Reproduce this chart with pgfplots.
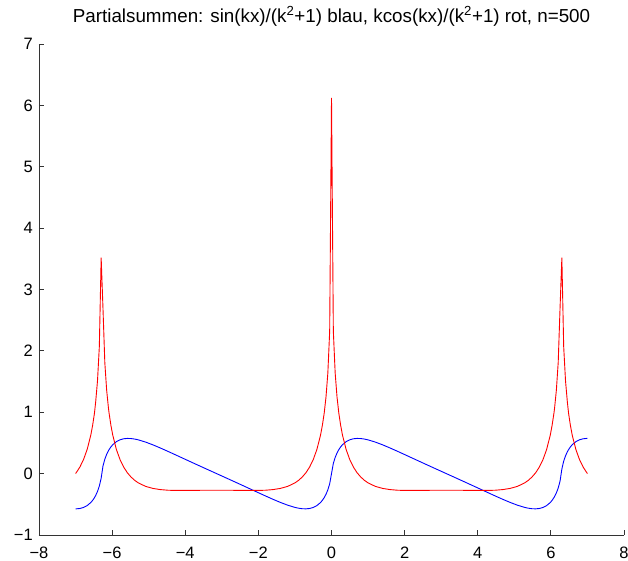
\documentclass[border=0pt]{standalone}
\usepackage{fontspec}
\setmainfont{Liberation Sans}
\usepackage{pgfplots}
\pgfplotsset{compat=1.18}

% partial sums, x = -7:0.05:7
\pgfplotstableread{
x y
-7.00 0.002
-6.9832 0.014
-6.8832 0.106
-6.7832 0.228
-6.6832 0.393
-6.5832 0.628
-6.5332 0.787
-6.4832 0.985
-6.45 1.168
-6.40 1.512
-6.35 2.069
-6.30 3.518
-6.25 2.689
-6.20 1.810
-6.15 1.361
-6.10 1.063
-6.0832 0.985
-6.0332 0.787
-5.9832 0.628
-5.8832 0.393
-5.7832 0.228
-5.6832 0.106
-5.5832 0.014
-5.4832 -0.055
-5.3832 -0.109
-5.2832 -0.151
-5.0832 -0.208
-4.8832 -0.241
-4.6832 -0.260
-4.4832 -0.270
-4.2832 -0.274
-4.0832 -0.274
-3.8832 -0.274
-3.6832 -0.272
-3.4832 -0.271
-3.2832 -0.270
-3.1416 -0.270
-3.00 -0.270
-2.80 -0.271
-2.60 -0.272
-2.40 -0.274
-2.20 -0.274
-2.00 -0.274
-1.80 -0.270
-1.60 -0.260
-1.40 -0.241
-1.20 -0.208
-1.00 -0.151
-0.90 -0.109
-0.80 -0.055
-0.70 0.014
-0.60 0.106
-0.50 0.228
-0.40 0.393
-0.30 0.628
-0.25 0.787
-0.20 0.985
-0.15 1.252
-0.10 1.641
-0.05 2.322
0.00 6.1208
0.05 2.322
0.10 1.641
0.15 1.252
0.20 0.985
0.25 0.787
0.30 0.628
0.40 0.393
0.50 0.228
0.60 0.106
0.70 0.014
0.80 -0.055
0.90 -0.109
1.00 -0.151
1.20 -0.208
1.40 -0.241
1.60 -0.260
1.80 -0.270
2.00 -0.274
2.20 -0.274
2.40 -0.274
2.60 -0.272
2.80 -0.271
3.00 -0.270
3.1416 -0.270
3.2832 -0.270
3.4832 -0.271
3.6832 -0.272
3.8832 -0.274
4.0832 -0.274
4.2832 -0.274
4.4832 -0.270
4.6832 -0.260
4.8832 -0.241
5.0832 -0.208
5.2832 -0.151
5.3832 -0.109
5.4832 -0.055
5.5832 0.014
5.6832 0.106
5.7832 0.228
5.8832 0.393
5.9832 0.628
6.0332 0.787
6.0832 0.985
6.10 1.063
6.15 1.361
6.20 1.810
6.25 2.689
6.30 3.518
6.35 2.069
6.40 1.512
6.45 1.168
6.4832 0.985
6.5332 0.787
6.5832 0.628
6.6832 0.393
6.7832 0.228
6.8832 0.106
6.9832 0.014
7.00 0.002
}\redsum

\pgfplotstableread{
x y
-7.00 -0.5740
-6.9832 -0.5738
-6.8832 -0.5680
-6.7832 -0.5516
-6.6832 -0.5210
-6.5832 -0.4707
-6.5332 -0.4355
-6.4832 -0.3913
-6.45 -0.3558
-6.40 -0.2901
-6.35 -0.2029
-6.30 -0.0742
-6.25 0.1239
-6.20 0.2345
-6.15 0.3135
-6.10 0.3740
-6.0832 0.3913
-6.0332 0.4355
-5.9832 0.4707
-5.8832 0.5210
-5.7832 0.5516
-5.6832 0.5680
-5.5832 0.5738
-5.4832 0.5716
-5.3832 0.5633
-5.2832 0.5502
-5.0832 0.5138
-4.8832 0.4686
-4.6832 0.4183
-4.4832 0.3652
-4.2832 0.3108
-4.0832 0.2559
-3.8832 0.2011
-3.6832 0.1465
-3.4832 0.0922
-3.2832 0.0382
-3.1416 0.0000
-3.00 -0.0382
-2.80 -0.0922
-2.60 -0.1465
-2.40 -0.2011
-2.20 -0.2559
-2.00 -0.3108
-1.80 -0.3652
-1.60 -0.4183
-1.40 -0.4686
-1.20 -0.5138
-1.00 -0.5502
-0.90 -0.5633
-0.80 -0.5716
-0.70 -0.5738
-0.60 -0.5680
-0.50 -0.5516
-0.40 -0.5210
-0.30 -0.4707
-0.25 -0.4355
-0.20 -0.3913
-0.15 -0.3356
-0.10 -0.2637
-0.05 -0.1663
0.00 0.0000
0.05 0.1663
0.10 0.2637
0.15 0.3356
0.20 0.3913
0.25 0.4355
0.30 0.4707
0.40 0.5210
0.50 0.5516
0.60 0.5680
0.70 0.5738
0.80 0.5716
0.90 0.5633
1.00 0.5502
1.20 0.5138
1.40 0.4686
1.60 0.4183
1.80 0.3652
2.00 0.3108
2.20 0.2559
2.40 0.2011
2.60 0.1465
2.80 0.0922
3.00 0.0382
3.1416 0.0000
3.2832 -0.0382
3.4832 -0.0922
3.6832 -0.1465
3.8832 -0.2011
4.0832 -0.2559
4.2832 -0.3108
4.4832 -0.3652
4.6832 -0.4183
4.8832 -0.4686
5.0832 -0.5138
5.2832 -0.5502
5.3832 -0.5633
5.4832 -0.5716
5.5832 -0.5738
5.6832 -0.5680
5.7832 -0.5516
5.8832 -0.5210
5.9832 -0.4707
6.0332 -0.4355
6.0832 -0.3913
6.10 -0.3740
6.15 -0.3135
6.20 -0.2345
6.25 -0.1239
6.30 0.0742
6.35 0.2029
6.40 0.2901
6.45 0.3558
6.4832 0.3913
6.5332 0.4355
6.5832 0.4707
6.6832 0.5210
6.7832 0.5516
6.8832 0.5680
6.9832 0.5738
7.00 0.5740
}\bluesum

\begin{document}
\begin{tikzpicture}
\begin{axis}[
  at={(0,0)}, anchor=south west,
  scale only axis, width=585pt, height=491pt,
  xmin=-8, xmax=8, ymin=-1, ymax=7,
  axis lines*=left,
  axis line style={black!80, line width=0.8pt},
  tick align=inside,
  major tick length=5pt,
  tick style={black!80, line width=0.8pt},
  xtick={-8,-6,...,8},
  xticklabels={−8,−6,−4,−2,0,2,4,6,8},
  ytick={-1,0,...,7},
  yticklabels={−1,0,1,2,3,4,5,6,7},
  xticklabel style={font=\fontsize{16.5}{19}\selectfont, anchor=base, inner sep=0pt, yshift=-23pt},
  yticklabel style={font=\fontsize{16.5}{19}\selectfont, anchor=east, inner sep=0pt, xshift=-6pt},
  title={Partialsummen: sin(kx)/(k\textsuperscript{2}+1) blau, kcos(kx)/(k\textsuperscript{2}+1) rot, n=500},
  title style={font=\fontsize{18.8}{22}\selectfont, at={(0.5,1)}, anchor=base, inner sep=0pt, yshift=16pt},
]
\addplot[blue, line width=0.9pt] table[x=x, y=y] {\bluesum};
\addplot[red, line width=0.9pt] table[x=x, y=y] {\redsum};
\end{axis}
\pgfresetboundingbox
\useasboundingbox (-39pt,-25pt) rectangle (589pt,535pt);
\end{tikzpicture}
\end{document}
